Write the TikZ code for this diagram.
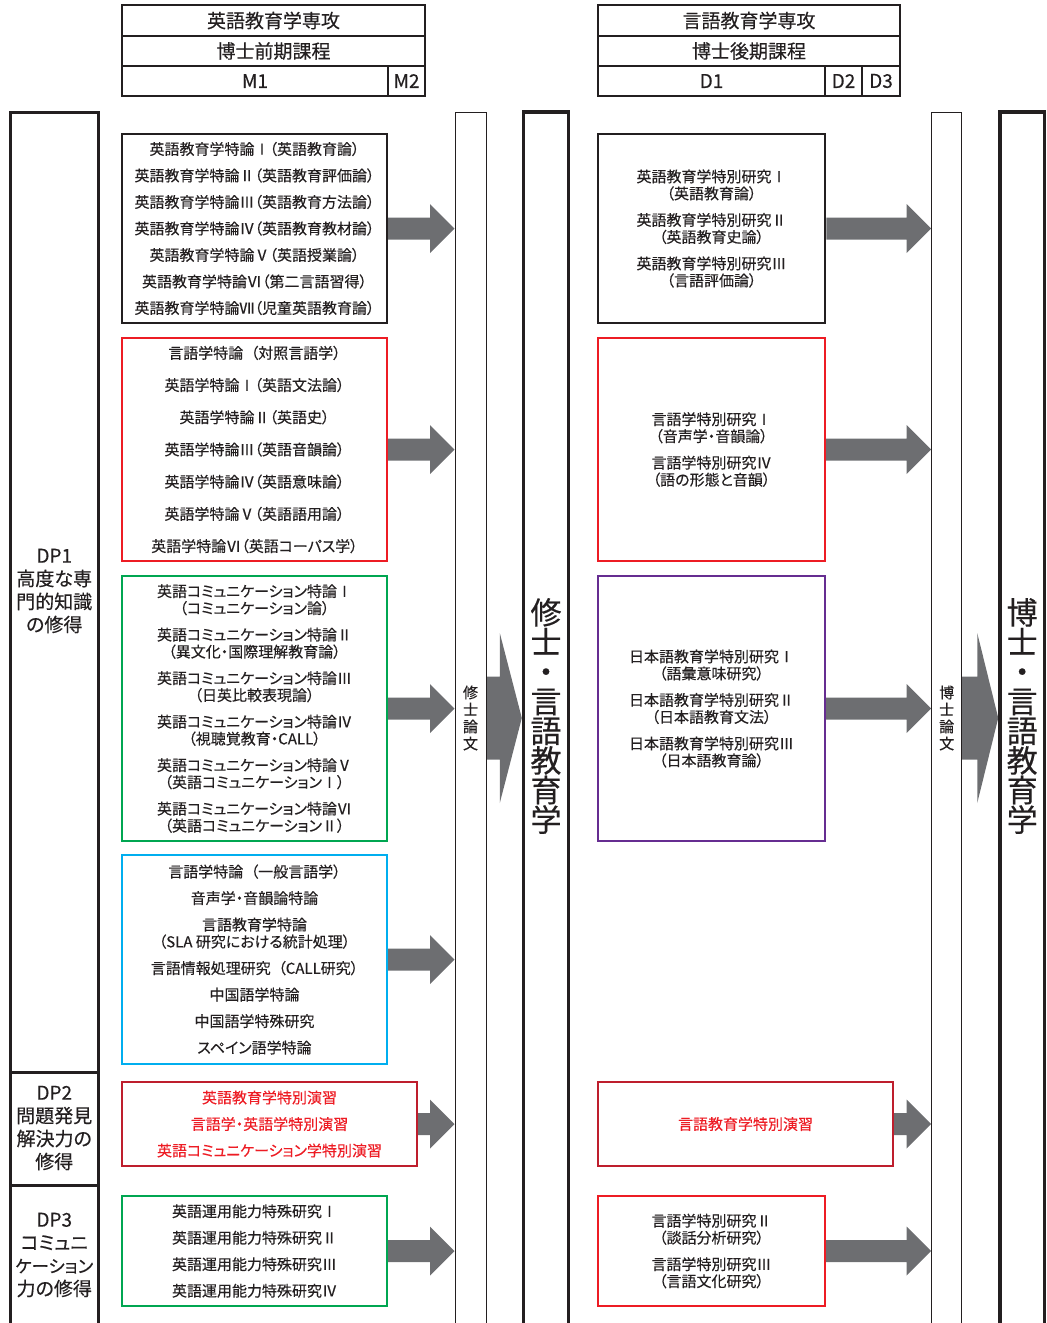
\documentclass[tikz,border=0pt]{standalone}
\usepackage{fontspec}
\newfontfamily\jp[RawFeature=+palt, FakeBold=0.35]{Noto Sans CJK JP}
\usetikzlibrary{calc,backgrounds}
\definecolor{ink}{HTML}{231F20}
\definecolor{agray}{HTML}{6D6E71}
\definecolor{cred}{HTML}{ED1C24}
\definecolor{cgreen}{HTML}{00A651}
\definecolor{ccyan}{HTML}{00AEEF}
\definecolor{cdred}{HTML}{BE1E2D}
\definecolor{cpurple}{HTML}{662D91}
\tikzset{
  every node/.style={font=\jp, text=ink},
  cell/.style={draw=ink, line width=1.2pt, inner sep=0pt, font=\jp\fontsize{19}{20}\selectfont},
  course/.style={draw=#1, line width=2pt, inner sep=0pt, align=center, font=\jp\fontsize{15}{17}\selectfont},
  colthin/.style={draw=ink, line width=1pt, inner sep=0pt},
  colthick/.style={draw=ink, line width=3.4pt, inner sep=0pt},
  vtext/.style={align=center, inner sep=0pt, font=\jp\fontsize{15}{17}\selectfont},
  bigv/.style={align=center, inner sep=0pt, font=\jp\fontsize{31}{29.6}\selectfont},
  dptext/.style={align=center, inner sep=0pt, font=\jp\fontsize{19}{23}\selectfont},
}
\newcommand\blockarrow[5]{%
  \coordinate (ba-s) at (#1);
  \coordinate (ba-e) at (#2 |- ba-s);
  \fill[agray] ($(ba-s)+(0,#3)$) -- ($(ba-e)+(-#5,#3)$) -- ($(ba-e)+(-#5,#4)$) -- (ba-e)
    -- ($(ba-e)+(-#5,-#4)$) -- ($(ba-e)+(-#5,-#3)$) -- ($(ba-s)+(0,-#3)$) -- cycle;
}
\begin{document}
\begin{tikzpicture}[x=1pt,y=-1pt]
\useasboundingbox (0,0) rectangle (1047,1323);

% ---------- headers ----------
\node[cell, minimum width=303pt, minimum height=31pt] (h1) at (273.5,20.5) {英語教育学専攻};
\node[cell, minimum width=303pt, minimum height=30pt] (h2) at (273.5,51) {博士前期課程};
\node[cell, minimum width=266pt, minimum height=30pt] (m1) at (255,81) {M1};
\node[cell, minimum width=37pt, minimum height=30pt] (m2) at (406.5,81) {M2};

\node[cell, minimum width=302pt, minimum height=31pt] (k1) at (749,20.5) {言語教育学専攻};
\node[cell, minimum width=302pt, minimum height=30pt] (k2) at (749,51) {博士後期課程};
\node[cell, minimum width=227pt, minimum height=30pt] (d1) at (711.5,81) {D1};
\node[cell, minimum width=37pt, minimum height=30pt] (d2) at (843.5,81) {D2};
\node[cell, minimum width=38pt, minimum height=30pt] (d3) at (881,81) {D3};

% ---------- DP column ----------
\node[colthick, line width=3pt, minimum width=88.5pt, minimum height=960pt] (dp1) at (54.25,592) {};
\node[colthick, line width=3pt, minimum width=88.5pt, minimum height=113pt] (dp2) at (54.25,1128.5) {};
\node[colthick, line width=3pt, minimum width=88.5pt, minimum height=155pt] (dp3) at (54.25,1262.5) {};
\node[dptext] (dp1t) at (54.25,591) {DP1\\高度な専\\門的知識\\の修得};
\node[dptext] (dp2t) at (54.25,1128) {DP2\\問題発見\\解決力の\\修得};
\node[dptext] (dp3t) at (54.25,1255) {DP3\\コミュニ\\{\fontsize{17.5}{23}\selectfont ケーション}\\力の修得};

% ---------- columns ----------
\node[colthin, minimum width=31pt, minimum height=1228pt] (mthesis) at (470.5,726) {};
\node[vtext] (mthesist) at (470.5,718) {修\\士\\論\\文};
\node[colthick, minimum width=45pt, minimum height=1228pt] (mcol) at (546,726) {};
\node[bigv] (mcolt) at (546,716) {修\\士\\・\\言\\語\\教\\育\\学};

\node[colthin, minimum width=30pt, minimum height=1228pt] (dthesis) at (946.7,726) {};
\node[vtext] (dthesist) at (946.7,718) {博\\士\\論\\文};
\node[colthick, minimum width=44.5pt, minimum height=1228pt] (dcol) at (1022.2,726) {};
\node[bigv] (dcolt) at (1022.2,716) {博\\士\\・\\言\\語\\教\\育\\学};

% ---------- left course boxes ----------
\node[course=ink, minimum width=265pt, minimum height=189pt, font=\jp\fontsize{15}{26.5}\selectfont] (b1) at (254.5,228.5) {英語教育学特論Ⅰ（英語教育論）\\英語教育学特論Ⅱ（英語教育評価論）\\英語教育学特論Ⅲ（英語教育方法論）\\英語教育学特論Ⅳ（英語教育教材論）\\英語教育学特論Ⅴ（英語授業論）\\英語教育学特論Ⅵ（第二言語習得）\\英語教育学特論Ⅶ（児童英語教育論）};

\node[course=cred, minimum width=265pt, minimum height=223pt, font=\jp\fontsize{15}{32.2}\selectfont] (b2) at (254.5,449.5) {言語学特論\hspace{0.5em}（対照言語学）\\英語学特論Ⅰ（英語文法論）\\英語学特論Ⅱ（英語史）\\英語学特論Ⅲ（英語音韻論）\\英語学特論Ⅳ（英語意味論）\\英語学特論Ⅴ（英語語用論）\\英語学特論Ⅵ（英語コーパス学）};

\node[course=cgreen, minimum width=265pt, minimum height=265pt] (b3) at (254.5,708.5) {英語コミュニケーション特論Ⅰ\\（コミュニケーション論）\\[9.5pt]英語コミュニケーション特論Ⅱ\\（異文化・国際理解教育論）\\[9.5pt]英語コミュニケーション特論Ⅲ\\（日英比較表現論）\\[9.5pt]英語コミュニケーション特論Ⅳ\\（視聴覚教育・CALL）\\[9.5pt]英語コミュニケーション特論Ⅴ\\（英語コミュニケーションⅠ）\\[9.5pt]英語コミュニケーション特論Ⅵ\\（英語コミュニケーションⅡ）};

\node[course=ccyan, minimum width=265pt, minimum height=209pt] (b4) at (254.5,959.5) {言語学特論\hspace{0.5em}（一般言語学）\\[9.5pt]音声学・音韻論特論\\[9.5pt]言語教育学特論\\（SLA 研究における統計処理）\\[9.5pt]言語情報処理研究\hspace{0.5em}（CALL研究）\\[9.5pt]中国語学特論\\[9.5pt]中国語学特殊研究\\[9.5pt]スペイン語学特論};

\node[course=cdred, minimum width=295pt, minimum height=84pt, text=cred, font=\jp\fontsize{15}{26.5}\selectfont] (b5) at (269.5,1124) {英語教育学特別演習\\言語学・英語学特別演習\\英語コミュニケーション学特別演習};

\node[course=cgreen, minimum width=265pt, minimum height=110pt, font=\jp\fontsize{15}{26.5}\selectfont] (b6) at (254.5,1251) {英語運用能力特殊研究Ⅰ\\英語運用能力特殊研究Ⅱ\\英語運用能力特殊研究Ⅲ\\英語運用能力特殊研究Ⅳ};

% ---------- right course boxes ----------
\node[course=ink, line width=2.5pt, minimum width=227pt, minimum height=189pt] (r1) at (711.5,228.5) {英語教育学特別研究Ⅰ\\（英語教育論）\\[9.5pt]英語教育学特別研究Ⅱ\\（英語教育史論）\\[9.5pt]英語教育学特別研究Ⅲ\\（言語評価論）};

\node[course=cred, minimum width=227pt, minimum height=223pt] (r2) at (711.5,449.5) {言語学特別研究Ⅰ\\（音声学・音韻論）\\[9.5pt]言語学特別研究Ⅳ\\（語の形態と音韻）};

\node[course=cpurple, minimum width=227pt, minimum height=265pt] (r3) at (711.5,708.5) {日本語教育学特別研究Ⅰ\\（語彙意味研究）\\[9.5pt]日本語教育学特別研究Ⅱ\\（日本語教育文法）\\[9.5pt]日本語教育学特別研究Ⅲ\\（日本語教育論）};

\node[course=cdred, minimum width=295pt, minimum height=84pt, text=cred] (r4) at (745.5,1124) {言語教育学特別演習};

\node[course=cred, minimum width=227pt, minimum height=110pt] (r5) at (711.5,1251) {言語学特別研究Ⅱ\\（談話分析研究）\\[9.5pt]言語学特別研究Ⅲ\\（言語文化研究）};

% ---------- arrows ----------
\begin{scope}[on background layer]
\blockarrow{b1.east}{mthesis.west}{11}{24.5}{24.5}
\blockarrow{b2.east}{mthesis.west}{11}{24.5}{24.5}
\blockarrow{b3.east}{mthesis.west}{11}{24.5}{24.5}
\blockarrow{b4.east}{mthesis.west}{11}{24.5}{24.5}
\blockarrow{b5.east}{mthesis.west}{11}{24.5}{24.5}
\blockarrow{b6.east}{mthesis.west}{11}{24.5}{24.5}
\blockarrow{r1.east}{dthesis.west}{11}{24.5}{24.5}
\blockarrow{r2.east}{dthesis.west}{11}{24.5}{24.5}
\blockarrow{r3.east}{dthesis.west}{11}{24.5}{24.5}
\blockarrow{r4.east}{dthesis.west}{11}{24.5}{24.5}
\blockarrow{r5.east}{dthesis.west}{11}{24.5}{24.5}
\coordinate (mA) at (mthesis.east |- 0,718);
\blockarrow{mA}{mcol.west}{41.5}{85}{22}
\coordinate (dA) at (dthesis.east |- 0,718);
\blockarrow{dA}{dcol.west}{41.5}{85}{21}
\end{scope}
\end{tikzpicture}
\end{document}
